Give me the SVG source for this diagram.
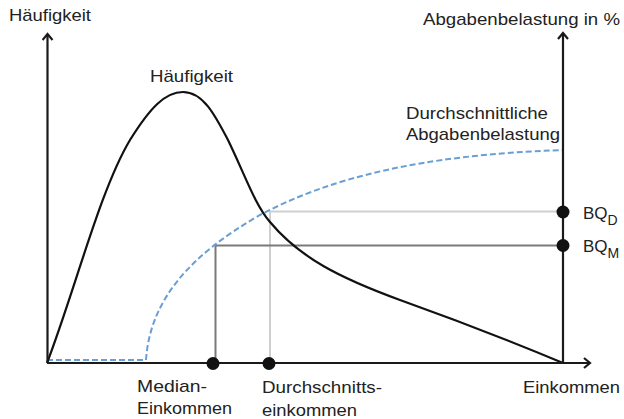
<svg xmlns="http://www.w3.org/2000/svg" width="624" height="419" viewBox="0 0 624 419">
<style>
text{font-family:"Liberation Sans",Arial,sans-serif;font-size:17px;fill:#222}
.sub{font-size:14px}
.axis{stroke:#1a1a1a;stroke-width:2.2;fill:none}
.dot{fill:#111}
</style>
<defs>
<marker id="arr" markerWidth="12" markerHeight="12" refX="9" refY="6" orient="auto" markerUnits="userSpaceOnUse">
<polyline points="3,1 9,6 3,11" fill="none" stroke="#1a1a1a" stroke-width="2.2"/>
</marker>
</defs>
<rect width="624" height="419" fill="#fff"/>
<g id="guides">
<polyline points="270,363 270,211.5 563,211.5" fill="none" stroke="#cfcfcf" stroke-width="2"/>
<polyline points="215.5,363 215.5,245.5 563,245.5" fill="none" stroke="#7a7a7a" stroke-width="2"/>
</g>
<g id="abgabe-curve">
<path d="M47,360 L146,360 C150,300 190,255 260,215 C330,178 420,155 563,150" fill="none" stroke="#6a9fd6" stroke-width="2" stroke-dasharray="6,3"/>
</g>
<g id="haeufigkeit-curve">
<path d="M47,363 C75,290 100,190 130,140 C150,108 165,92 183,92 C203,92 215,115 228,140 C245,175 255,205 270,222 C300,258 340,278 400,300 C470,325 520,345 563,363" fill="none" stroke="#111" stroke-width="2.2"/>
</g>
<g id="connectors">
<line class="axis" x1="47.5" y1="363" x2="47.5" y2="34" marker-end="url(#arr)"/>
<line class="axis" x1="47" y1="363" x2="590" y2="363" marker-end="url(#arr)"/>
<line class="axis" x1="563" y1="363" x2="563" y2="33" marker-end="url(#arr)"/>
</g>
<g id="points">
<circle class="dot" cx="213" cy="363.5" r="6.5"/>
<circle class="dot" cx="269" cy="363.5" r="6.5"/>
<circle class="dot" cx="563" cy="212" r="6.5"/>
<circle class="dot" cx="563" cy="245.5" r="6.5"/>
</g>
<g id="labels">
<text x="9" y="21" textLength="82" lengthAdjust="spacingAndGlyphs">Häufigkeit</text>
<text x="423" y="25" textLength="197" lengthAdjust="spacingAndGlyphs">Abgabenbelastung in %</text>
<text x="150" y="82" textLength="83" lengthAdjust="spacingAndGlyphs">Häufigkeit</text>
<text x="406" y="119" textLength="142" lengthAdjust="spacingAndGlyphs">Durchschnittliche</text>
<text x="406" y="140" textLength="154" lengthAdjust="spacingAndGlyphs">Abgabenbelastung</text>
<text x="583" y="219">BQ<tspan class="sub" dy="6">D</tspan></text>
<text x="583" y="252">BQ<tspan class="sub" dy="6">M</tspan></text>
<text x="137" y="392" textLength="70" lengthAdjust="spacingAndGlyphs">Median-</text>
<text x="137" y="414" textLength="95" lengthAdjust="spacingAndGlyphs">Einkommen</text>
<text x="262" y="393" textLength="120" lengthAdjust="spacingAndGlyphs">Durchschnitts-</text>
<text x="262" y="416" textLength="95" lengthAdjust="spacingAndGlyphs">einkommen</text>
<text x="523" y="393" textLength="97" lengthAdjust="spacingAndGlyphs">Einkommen</text>
</g>
</svg>
